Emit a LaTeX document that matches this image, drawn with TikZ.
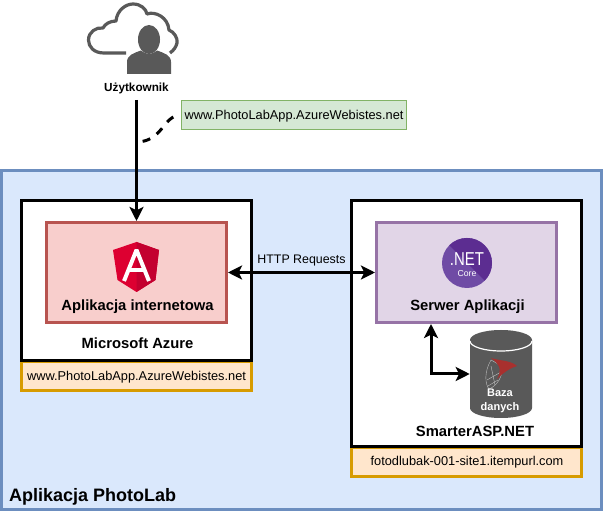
\documentclass[tikz,border=0pt]{standalone}
\usepackage{fontspec}
\setmainfont{Liberation Sans}
\usepackage{xcolor}
\usetikzlibrary{arrows.meta}
\definecolor{framefill}{HTML}{DAE8FC}
\definecolor{framedraw}{HTML}{6C8EBF}
\definecolor{pinkfill}{HTML}{F8CECC}
\definecolor{pinkdraw}{HTML}{B85450}
\definecolor{purplefill}{HTML}{E1D5E7}
\definecolor{purpledraw}{HTML}{9673A6}
\definecolor{orangefill}{HTML}{FFE6CC}
\definecolor{orangedraw}{HTML}{D79B00}
\definecolor{greenfill}{HTML}{D5E8D4}
\definecolor{greendraw}{HTML}{82B366}
\definecolor{icongray}{HTML}{595959}
\definecolor{netlight}{HTML}{6F4BA5}
\definecolor{netdark}{HTML}{5C2D91}
\definecolor{ngleft}{HTML}{DD0031}
\definecolor{ngright}{HTML}{C3002F}
\definecolor{sqlred}{HTML}{A8302E}
\tikzset{
  box/.style={draw, line width=2.25pt, minimum width=#1, inner sep=0pt},
  title/.style={font=\fontsize{11.1}{13}\selectfont\bfseries},
  small/.style={font=\fontsize{9.6}{11}\selectfont},
  link/.style={line width=2.25pt, >={Stealth[length=10.5pt,width=10.5pt,inset=2.5pt]}}
}
\begin{document}
\begin{tikzpicture}[x=0.75pt, y=-0.75pt]
            \useasboundingbox [fill=white] (0,0) rectangle (604,513);
            \node [box=450pt, draw=framedraw, fill=framefill, minimum height=254.25pt] (frame) at (301.5,340.25) {};
            \node [title, font=\fontsize{13.5}{16}\selectfont\bfseries, anchor=west] (framelabel) at (4.5,496.5) {Aplikacja PhotoLab};

            \node [box=172.5pt, draw=orangedraw, fill=orangefill, minimum height=21.75pt] (azureurl) at (136.5,376) {};
            \node [box=172.5pt, fill=white, minimum height=120pt] (azure) at (136.5,280.5) {};
            \node [box=135pt, draw=pinkdraw, fill=pinkfill, minimum height=75pt] (webapp) at (136.5,272.5) {};
            \node [small] (azureurltext) at (136.5,377) {www.PhotoLabApp.AzureWebistes.net};
            \node [title] (azuretext) at (137.5,343) {Microsoft Azure};
            \node [title] (webapptext) at (137.5,307) {Aplikacja internetowa};

            \node [box=172.5pt, draw=orangedraw, fill=orangefill, minimum height=21.75pt] (smarterurl) at (466.5,462) {};
            \node [box=172.5pt, fill=white, minimum height=184.5pt] (smarter) at (466.5,323.5) {};
            \node [box=135pt, draw=purpledraw, fill=purplefill, minimum height=75pt] (server) at (466.5,272.5) {};
            \node [small] (smarterurltext) at (467,462.5) {fotodlubak-001-site1.itempurl.com};
            \node [title] (smartertext) at (475,431.5) {SmarterASP.NET};
            \node [title] (servertext) at (467.5,307) {Serwer Aplikacji};

            \node [box=168.75pt, line width=0.75pt, draw=greendraw, fill=greenfill, minimum height=21.75pt] (address) at (294,115) {};
            \node [small] (addresstext) at (294,116.5) {www.PhotoLabApp.AzureWebistes.net};

            % user icon
            \draw [icongray, line width=2.4pt, line join=round] (126,53) -- (104,53)
                .. controls (94,53) and (88.5,47) .. (88.5,40)
                .. controls (88.5,32) and (96,27) .. (103,28)
                .. controls (105,24) and (110,21) .. (116,21)
                .. controls (117,10) and (126,4) .. (133,4)
                .. controls (141,4) and (146,9) .. (147,14)
                .. controls (155,11) and (168,17) .. (169,30)
                .. controls (174,32) and (178,38) .. (177,43)
                .. controls (176,47) and (174,50) .. (170,53);
            \fill [icongray] (149,39.5) ellipse [x radius=11, y radius=14.5];
            \fill [icongray] (127,74) -- (127,62) .. controls (127,55) and (134,53) .. (141,50.5)
                .. controls (145,55) and (153,55) .. (157,50.5)
                .. controls (164,53) and (171,55) .. (171,62) -- (171,74) -- cycle;
            \node [font=\fontsize{8.8}{10}\selectfont\bfseries] (user) at (136.5,88) {Użytkownik};

            % angular logo
            \fill [ngleft] (136.5,242) -- (159,250) -- (155.5,280) -- (136.5,292) -- (117.5,280) -- (113,250) -- cycle;
            \fill [ngright] (136.5,242) -- (159,250) -- (155.5,280) -- (136.5,292) -- cycle;
            \draw [white, line width=3pt, miter limit=1] (124,281) -- (136.5,250) -- (149,281);
            \draw [white, line width=3pt] (128,270) -- (145,270);

            % .net logo
            \fill [netlight] (467,263) circle [radius=25];
            \fill [netdark] (449.3,245.3) arc [start angle=225, end angle=405, radius=25] -- cycle;
            \node [white, inner sep=0pt, xscale=.8, transform shape, font=\fontsize{14}{15}\selectfont] (netlogo) at (467,259.5) {.NET};
            \node [white, inner sep=0pt, font=\fontsize{6.5}{7}\selectfont] (netcore) at (467,273.5) {Core};

            % database
            \node [minimum width=46.5pt, minimum height=66pt, inner sep=0pt] (db) at (501,374) {};
            \fill [icongray] (470,340) arc [start angle=180, end angle=360, x radius=31, y radius=10]
                -- (532,408) arc [start angle=0, end angle=180, x radius=31, y radius=10] -- cycle;
            \draw [white, line width=0.9pt] (470,341) arc [start angle=180, end angle=0, x radius=31, y radius=10];
            \draw [lightgray, line width=0.3pt] (491,360) .. controls (484,372) and (485,384) .. (489,389)
                .. controls (497,386) and (503,376) .. (502,368) .. controls (500,364) and (494,362) .. (491,360);
            \draw [lightgray, line width=0.3pt] (487,380) -- (501,372) (488,386) -- (498,380) (491,366) -- (495,385);
            \fill [sqlred] (491,358) .. controls (500,361) and (510,360) .. (517,366)
                .. controls (510,368) and (503,373) .. (497,379) .. controls (501,372) and (502,366) .. (491,358);
            \node [white, align=center, font=\fontsize{8.25}{10.5}\selectfont\bfseries] (dbtext) at (500,401) {Baza\\danych};

            % connectors
            \coordinate (dashend) at (136,142);
            \coordinate (elbow) at (431,374);
            \coordinate (userfoot) at (136.5,100);
            \draw [link, ->] (userfoot) -- (webapp.north);
            \draw [link, dash pattern=on 6pt off 6pt, dash phase=6pt] (address.west) .. controls (163,115) and (163,142) .. (dashend);
            \draw [link, <->] (webapp.east) -- node [above, pos=0.5, font=\fontsize{9.3}{11}\selectfont] (httplabel) {HTTP Requests} (server.west);
            \draw [link, <->] (server.south -| elbow) -- (elbow) -- (db.west);
\end{tikzpicture}
\end{document}
